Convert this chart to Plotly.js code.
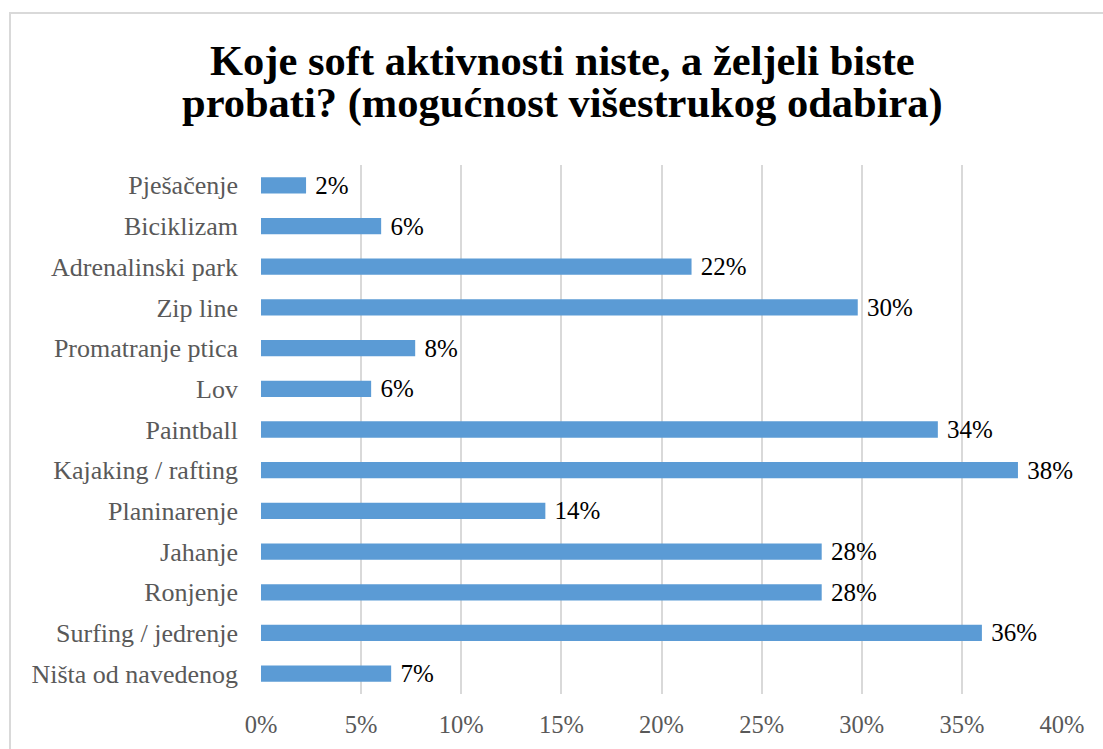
<!DOCTYPE html>
<html>
<head>
<meta charset="utf-8">
<script src="https://cdn.plot.ly/plotly-3.0.1.min.js"></script>
<style>
html,body{margin:0;padding:0;background:#fff;}
#frame{position:absolute;left:9px;top:12px;width:1110px;height:760px;border:2px solid #d9d9d9;box-sizing:border-box;}
#chart{position:absolute;left:0;top:0;width:1103px;height:749px;}
</style>
</head>
<body>
<div id="frame"></div>
<div id="chart"></div>
<script>
const categories = ["Pješačenje","Biciklizam","Adrenalinski park","Zip line","Promatranje ptica","Lov","Paintball","Kajaking / rafting","Planinarenje","Jahanje","Ronjenje","Surfing / jedrenje","Ništa od navedenog"];
const values = [2.25, 6.0, 21.5, 29.8, 7.7, 5.5, 33.8, 37.8, 14.2, 28.0, 28.0, 36.0, 6.5];
const tickValues = [0,5,10,15,20,25,30,35,40];
const tickLabels = ["0%","5%","10%","15%","20%","25%","30%","35%","40%"];
const titleLines = ["Koje soft aktivnosti niste, a željeli biste", "probati? (mogućnost višestrukog odabira)"];

const font = "Liberation Serif, Times New Roman, serif";
Plotly.newPlot("chart", [{
  type: "bar",
  orientation: "h",
  y: categories,
  x: values,
  width: 0.4,
  marker: {color: "#5b9bd5"},
  texttemplate: " %{x:.0f}%",
  textposition: "outside",
  constraintext: "none",
  cliponaxis: false,
  textfont: {family: font, size: 25, color: "#000"},
  hoverinfo: "none"
}], {
  width: 1103, height: 749,
  paper_bgcolor: "rgba(0,0,0,0)",
  plot_bgcolor: "rgba(0,0,0,0)",
  margin: {l: 261, r: 41, t: 165, b: 55},
  showlegend: false,
  annotations: [
    {text: titleLines[0], xref: "paper", yref: "paper", x: 0.377, y: 1.1966, xanchor: "center", yanchor: "middle", showarrow: false,
     font: {family: font, size: 42.5, color: "#000", weight: "bold"}},
    {text: titleLines[1], xref: "paper", yref: "paper", x: 0.377, y: 1.1172, xanchor: "center", yanchor: "middle", showarrow: false,
     font: {family: font, size: 42.5, color: "#000", weight: "bold"}}
  ],
  xaxis: {
    range: [0, 40],
    tickvals: tickValues,
    ticktext: tickLabels,
    showgrid: true, gridcolor: "#d9d9d9", gridwidth: 2,
    zeroline: false, showline: false,
    ticks: "", ticklabelstandoff: 13,
    tickfont: {family: font, size: 24.5, color: "#595959"},
    fixedrange: true
  },
  yaxis: {
    autorange: "reversed",
    showgrid: false, zeroline: false, showline: false,
    ticks: "", ticklabelstandoff: 22,
    tickfont: {family: font, size: 26, color: "#595959"},
    fixedrange: true
  }
}, {displayModeBar: false, staticPlot: true});
</script>
</body>
</html>
